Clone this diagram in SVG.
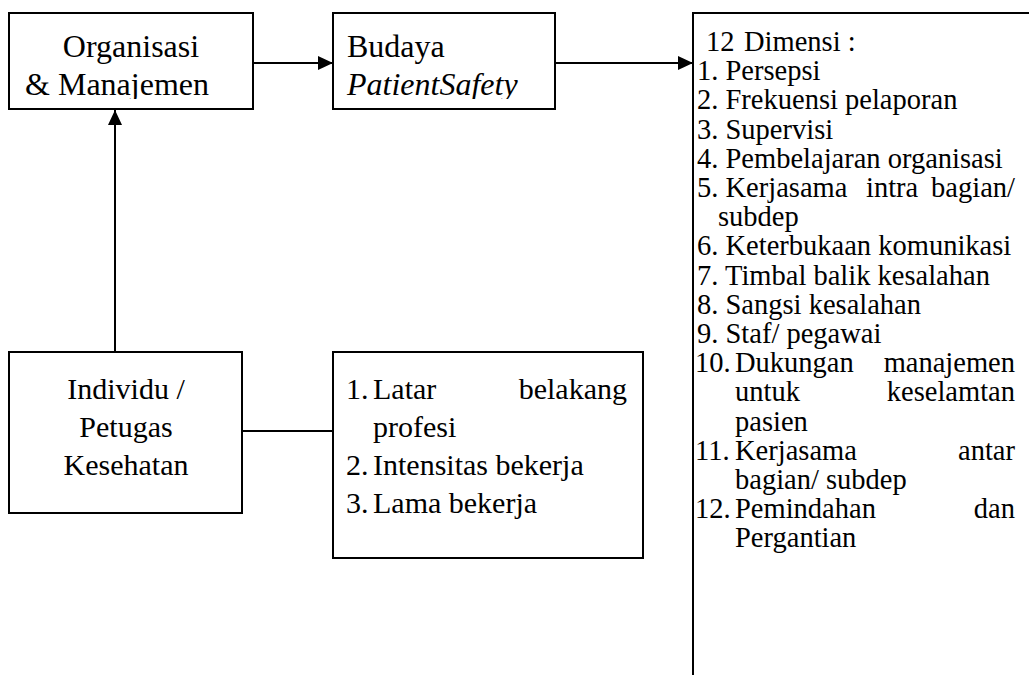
<svg xmlns="http://www.w3.org/2000/svg" width="1029" height="675" viewBox="0 0 1029 675">
<style>
.box{fill:#fff;stroke:#000;stroke-width:2}
.ln{fill:none;stroke:#000;stroke-width:2}
.t{font-family:"Liberation Serif","Times New Roman",serif;font-size:28.5px;fill:#000}
.tb{font-family:"Liberation Serif","Times New Roman",serif;font-size:30px;fill:#000}
.tt{font-family:"Liberation Serif","Times New Roman",serif;font-size:32px;fill:#000}
.c{text-anchor:middle}
.e{text-anchor:end}
.i{font-style:italic}
</style>
<defs>
<marker id="ah" markerWidth="15" markerHeight="14" refX="15" refY="7" orient="auto" markerUnits="userSpaceOnUse">
<path d="M0,0 L15,7 L0,14 Z" fill="#000"/>
</marker>
<clipPath id="c1"><rect x="9" y="13" width="244" height="86"/></clipPath>
<clipPath id="c2"><rect x="333" y="13" width="222" height="86"/></clipPath>
</defs>
<rect width="1029" height="675" fill="#fff"/>
<g id="connectors">
<line class="ln" x1="253" y1="63" x2="333" y2="63" marker-end="url(#ah)"/>
<line class="ln" x1="555" y1="63" x2="693" y2="63" marker-end="url(#ah)"/>
<line class="ln" x1="115" y1="352" x2="115" y2="110" marker-end="url(#ah)"/>
<line class="ln" x1="242" y1="431" x2="333" y2="431"/>
</g>
<g id="organisasi">
<rect class="box" x="9" y="13" width="244" height="96"/>
<g clip-path="url(#c1)">
<text class="tt c" x="131" y="57">Organisasi</text>
<text class="tt c" x="117" y="95">&amp; Manajemen</text>
</g>
</g>
<g id="budaya">
<rect class="box" x="333" y="13" width="222" height="96"/>
<g clip-path="url(#c2)">
<text class="tt" x="347" y="57">Budaya</text>
<text class="tt i" x="347" y="95">PatientSafety</text>
</g>
</g>
<g id="dimensi">
<rect class="box" x="693" y="13" width="400" height="700"/>
<text class="t" x="706" y="51">12</text><text class="t" x="744" y="51">Dimensi :</text>
<text class="t" x="697" y="80.2">1. Persepsi</text>
<text class="t" x="697" y="109.4">2. Frekuensi pelaporan</text>
<text class="t" x="697" y="138.6">3. Supervisi</text>
<text class="t" x="697" y="167.8">4. Pembelajaran organisasi</text>
<text class="t" x="697" y="197">5. Kerjasama</text><text class="t" x="866" y="197">intra</text><text class="t e" x="1015" y="197">bagian/</text>
<text class="t" x="718" y="226.2">subdep</text>
<text class="t" x="697" y="255.4">6. Keterbukaan komunikasi</text>
<text class="t" x="697" y="284.6">7. Timbal balik kesalahan</text>
<text class="t" x="697" y="313.8">8. Sangsi kesalahan</text>
<text class="t" x="697" y="343">9. Staf/ pegawai</text>
<text class="t" x="695" y="372.2">10.</text><text class="t" x="735" y="372.2">Dukungan</text><text class="t e" x="1015" y="372.2">manajemen</text>
<text class="t" x="735" y="401.4">untuk</text><text class="t e" x="1015" y="401.4">keselamtan</text>
<text class="t" x="735" y="430.6">pasien</text>
<text class="t" x="695" y="459.8">11.</text><text class="t" x="735" y="459.8">Kerjasama</text><text class="t e" x="1015" y="459.8">antar</text>
<text class="t" x="735" y="489">bagian/ subdep</text>
<text class="t" x="695" y="518.2">12.</text><text class="t" x="735" y="518.2">Pemindahan</text><text class="t e" x="1015" y="518.2">dan</text>
<text class="t" x="735" y="547.4">Pergantian</text>
</g>
<g id="individu">
<rect class="box" x="9" y="352" width="233" height="161"/>
<text class="tb c" x="126" y="399">Individu /</text>
<text class="tb c" x="126" y="437">Petugas</text>
<text class="tb c" x="126" y="475">Kesehatan</text>
</g>
<g id="faktor">
<rect class="box" x="333" y="352" width="310" height="206"/>
<text class="tb" x="346" y="399">1.</text><text class="tb" x="373" y="399">Latar</text><text class="tb e" x="627" y="399">belakang</text>
<text class="tb" x="373" y="437">profesi</text>
<text class="tb" x="346" y="475">2.</text><text class="tb" x="373" y="475">Intensitas bekerja</text>
<text class="tb" x="346" y="513">3.</text><text class="tb" x="373" y="513">Lama bekerja</text>
</g>
</svg>
